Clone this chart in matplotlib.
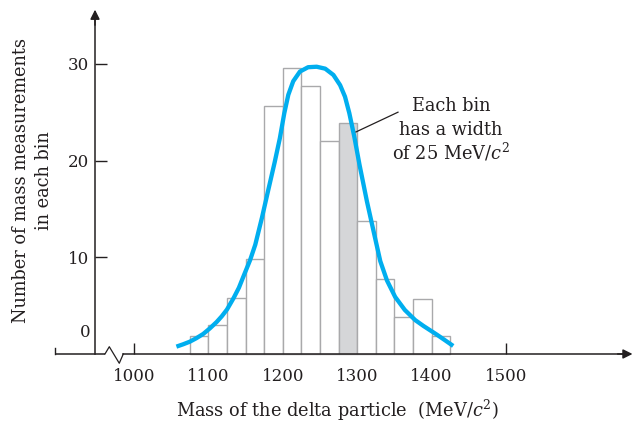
import matplotlib
matplotlib.use("Agg")
import matplotlib.pyplot as plt

plt.rcParams['font.family'] = ['DejaVu Serif']
plt.rcParams['mathtext.fontset'] = 'dejavuserif'

# ---- data ----
bin_left = [1075, 1100, 1125, 1150, 1175, 1200, 1225, 1250, 1275, 1300, 1325, 1350, 1375, 1400]
bin_counts = [1.9, 3.0, 5.8, 9.8, 25.6, 29.6, 27.7, 22.0, 23.9, 13.8, 7.8, 3.8, 5.7, 1.9]
bin_width = 25
highlight_bin = 1275

curve_x = [1057, 1066, 1075, 1084, 1093, 1102, 1111, 1118, 1125, 1134, 1141, 1147,
           1156, 1163, 1172, 1180, 1189, 1196, 1202, 1207.4, 1214, 1223, 1234,
           1245.5, 1257, 1268, 1277, 1283.6, 1289.4, 1296, 1303, 1313, 1324, 1331,
           1340, 1351, 1364, 1378, 1389, 1398, 1407, 1418, 1429]
curve_y = [0.76, 1.0, 1.27, 1.64, 2.07, 2.65, 3.3, 3.9, 4.6, 5.8, 6.85, 8.0,
           9.7, 11.3, 14.1, 16.8, 19.8, 22.3, 24.9, 26.8, 28.2, 29.2, 29.65,
           29.7, 29.5, 28.85, 27.8, 26.6, 24.9, 22.5, 19.6, 15.8, 12.0, 9.6,
           7.6, 5.9, 4.55, 3.5, 2.9, 2.45, 2.0, 1.42, 0.83]

x_ticks = [1000, 1100, 1200, 1300, 1400, 1500]
y_ticks = [10, 20, 30]

ink = '#231f20'
fs_txt = 12.8
fs_num = 12

fig = plt.figure(figsize=(6.36, 4.24), dpi=100)
ax = fig.add_axes([0, 0, 1, 1])
ax.set_xlim(819.9, 1674.7)
ax.set_ylim(-7.24, 36.6)

# bars
colors = ['#d5d6d8' if l == highlight_bin else 'white' for l in bin_left]
ax.bar(bin_left, bin_counts, width=bin_width, align='edge', color=colors,
       edgecolor='#a9a9ab', linewidth=1.0, zorder=2)

# fitted curve
ax.plot(curve_x, curve_y, color='#00AEEF', lw=3.1, solid_capstyle='butt',
        solid_joinstyle='round', zorder=4)

# axes
y_axis_x = 947.6
for s in ['top', 'right']:
    ax.spines[s].set_visible(False)
ax.spines['left'].set_position(('data', y_axis_x))
ax.spines['left'].set_bounds(0, 34.5)
ax.spines['bottom'].set_position(('data', 0))
ax.spines['bottom'].set_bounds(985.6, 1660)
for s in ['left', 'bottom']:
    ax.spines[s].set_linewidth(1.1)
    ax.spines[s].set_color(ink)
    ax.spines[s].set_zorder(5)

# left piece of x axis, end tick and break
ax.plot([894, 961], [0, 0], color=ink, lw=1.1, zorder=5, solid_capstyle='butt')
ax.plot([894, 894], [0, 0.6], color=ink, lw=1.0, zorder=5)
ax.plot([961, 966.8, 980.2, 985.6], [0, 0.75, -0.96, 0], color=ink, lw=0.9, zorder=5)

# arrow heads
ax.annotate('', xy=(1670, 0), xytext=(1650, 0),
            arrowprops=dict(arrowstyle='-|>', color=ink, lw=1.1,
                            mutation_scale=14, shrinkA=0, shrinkB=0), zorder=6)
ax.annotate('', xy=(y_axis_x, 35.6), xytext=(y_axis_x, 34),
            arrowprops=dict(arrowstyle='-|>', color=ink, lw=1.1,
                            mutation_scale=14, shrinkA=0, shrinkB=0), zorder=6)

ax.set_xticks(x_ticks)
ax.set_xticklabels([str(v) for v in x_ticks])
ax.set_yticks(y_ticks)
ax.set_yticklabels([str(v) for v in y_ticks])
ax.tick_params(axis='x', direction='in', length=8, width=1.0, color=ink,
               labelsize=fs_num, labelcolor=ink, pad=10)
ax.tick_params(axis='y', direction='in', length=8.5, width=1.0, color=ink,
               labelsize=fs_num, labelcolor=ink, pad=4)
for t in ax.get_xticklines() + ax.get_yticklines():
    t.set_zorder(5)

# "0" label
ax.text(941, 2.17, '0', ha='right', va='center', fontsize=fs_num, color=ink)

# axis titles
ax.text(1274, -5.8, 'Mass of the delta particle  (MeV/$c^2$)', ha='center',
        va='center', fontsize=fs_txt, color=ink)
ax.text(848.5, 17.9, 'Number of mass measurements', rotation=90, ha='center',
        va='center', fontsize=fs_txt, color=ink)
ax.text(878.5, 17.9, 'in each bin', rotation=90, ha='center', va='center',
        fontsize=fs_txt, color=ink)

# annotation
ax.plot([1298.4, 1354.8], [22.96, 25.0], color=ink, lw=0.9, zorder=5)
ax.text(1426, 25.6, 'Each bin', ha='center', va='center', fontsize=fs_txt, color=ink)
ax.text(1426, 23.2, 'has a width', ha='center', va='center', fontsize=fs_txt, color=ink)
ax.text(1426, 20.9, 'of 25 MeV/$c^2$', ha='center', va='center', fontsize=fs_txt, color=ink)

fig.savefig('out.png', dpi=100, facecolor='white')
